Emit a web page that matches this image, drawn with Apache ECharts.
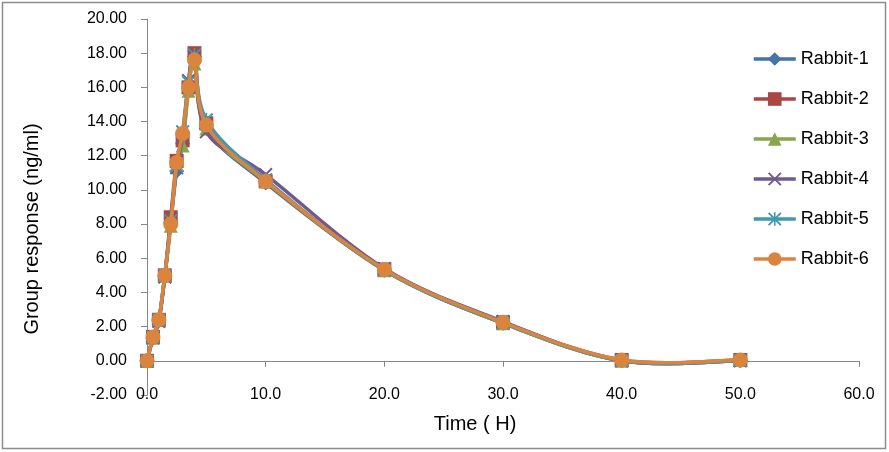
<!DOCTYPE html>
<html>
<head>
<meta charset="utf-8">
<script src="https://cdn.jsdelivr.net/npm/echarts@6/dist/echarts.min.js"></script>
<style>
html,body{margin:0;padding:0;background:#fff;}
#chart{width:889px;height:452px;}
</style>
</head>
<body>
<div id="chart"></div>
<script>
const times = [0, 0.5, 1, 1.5, 2, 2.5, 3, 3.5, 4, 5, 10, 20, 30, 40, 50];
const seriesNames = ['Rabbit-1', 'Rabbit-2', 'Rabbit-3', 'Rabbit-4', 'Rabbit-5', 'Rabbit-6'];
const rabbit1 = [0, 1.3, 2.35, 4.9, 8.1, 11.1, 12.7, 16.2, 17.8, 13.6, 10.4, 5.3, 2.2, 0.0, 0.0];
const rabbit2 = [0, 1.4, 2.4, 5.0, 8.4, 11.7, 12.9, 16.0, 18.0, 13.9, 10.5, 5.35, 2.25, 0.05, 0.05];
const rabbit3 = [0, 1.35, 2.4, 5.0, 7.9, 11.5, 12.6, 15.8, 17.4, 13.6, 10.5, 5.3, 2.2, 0.0, 0.05];
const rabbit4 = [0, 1.35, 2.3, 4.9, 8.2, 11.3, 13.1, 16.4, 17.8, 13.4, 10.9, 5.4, 2.3, 0.0, 0.0];
const rabbit5 = [0, 1.4, 2.4, 5.0, 8.2, 11.4, 13.4, 16.3, 17.9, 14.1, 10.6, 5.3, 2.2, 0.0, 0.0];
const rabbit6 = [0, 1.4, 2.4, 5.0, 8.0, 11.6, 13.3, 16.0, 17.6, 13.8, 10.5, 5.35, 2.25, 0.05, 0.05];
const allValues = [rabbit1, rabbit2, rabbit3, rabbit4, rabbit5, rabbit6];

const colors = ['#4572A7', '#AA4643', '#89A54E', '#71588F', '#4198AF', '#DB843D'];
const xPath = 'path://M0,1L1,0L10,9L9,10Z M9,0L10,1L1,10L0,9Z';
const starPath = 'path://M0,1L1,0L10,9L9,10Z M9,0L10,1L1,10L0,9Z M4.4,0H5.6V10H4.4Z';
const symbols = ['diamond', 'rect', 'triangle', xPath, starPath, 'circle'];
const symbolSizes = [15, 14, 14, 14, 14, 15];
const lineW = 3.5;

const chart = echarts.init(document.getElementById('chart'));
const axisColor = '#868686';
const font = 'Liberation Sans, Arial, sans-serif';

const series = [];
seriesNames.forEach((name, i) => {
  // smooth connecting curve (Excel-style cardinal spline through the data points)
  series.push({
    type: 'custom',
    coordinateSystem: 'cartesian2d',
    xAxisIndex: 0,
    yAxisIndex: 0,
    silent: true,
    clip: false,
    z: 2 + 2 * i,
    data: [[times[0], allValues[i][0]]],
    renderItem: function (params, api) {
      const pts = times.map((t, j) => api.coord([t, allValues[i][j]]));
      const n = pts.length;
      let d = 'M' + pts[0][0] + ',' + pts[0][1];
      for (let k = 0; k < n - 1; k++) {
        const p0 = pts[Math.max(k - 1, 0)];
        const p1 = pts[k];
        const p2 = pts[k + 1];
        const p3 = pts[Math.min(k + 2, n - 1)];
        const c1x = p1[0] + (p2[0] - p0[0]) / 6;
        const c1y = p1[1] + (p2[1] - p0[1]) / 6;
        const c2x = p2[0] - (p3[0] - p1[0]) / 6;
        const c2y = p2[1] - (p3[1] - p1[1]) / 6;
        d += 'C' + c1x + ',' + c1y + ' ' + c2x + ',' + c2y + ' ' + p2[0] + ',' + p2[1];
      }
      return {
        type: 'path',
        shape: { pathData: d },
        style: { stroke: colors[i], lineWidth: lineW, fill: null, lineJoin: 'round', lineCap: 'round' }
      };
    }
  });
  // markers
  series.push({
    name: name,
    type: 'line',
    xAxisIndex: 0,
    yAxisIndex: 0,
    showAllSymbol: true,
    symbol: symbols[i],
    symbolSize: symbolSizes[i],
    data: times.map((t, j) => [t, allValues[i][j]]),
    lineStyle: { color: colors[i], width: lineW, opacity: 0 },
    itemStyle: { color: colors[i] },
    emphasis: { disabled: true },
    z: 3 + 2 * i
  });
});

chart.setOption({
  animation: false,
  backgroundColor: '#fff',
  grid: { left: 147, right: 30, top: 19, bottom: 57, containLabel: false },
  legend: {
    orient: 'vertical',
    left: 747,
    top: 45,
    itemWidth: 42,
    itemHeight: 17,
    itemGap: 22,
    data: seriesNames.map((n, i) => ({
      name: n,
      lineStyle: { color: colors[i], width: lineW, opacity: 1 },
      itemStyle: { color: colors[i] }
    })),
    textStyle: { fontFamily: font, fontSize: 18, color: '#000', lineHeight: 17 }
  },
  xAxis: [
    {
      type: 'value', min: 0, max: 60, interval: 10, position: 'bottom',
      axisLine: { show: true, onZero: true, lineStyle: { color: axisColor, width: 1 } },
      axisTick: { show: true, inside: false, length: 6, lineStyle: { color: axisColor } },
      axisLabel: { show: false },
      splitLine: { show: false }
    },
    {
      type: 'value', min: 0, max: 60, interval: 10, position: 'bottom',
      axisLine: { show: false, onZero: false },
      axisTick: { show: false },
      axisLabel: {
        show: true, margin: 0, verticalAlign: 'middle',
        formatter: v => v.toFixed(1),
        fontFamily: font, fontSize: 16, color: '#000'
      },
      splitLine: { show: false }
    }
  ],
  yAxis: {
    type: 'value', min: -2, max: 20, interval: 2,
    axisLine: { show: true, lineStyle: { color: axisColor, width: 1 } },
    axisTick: { show: true, inside: false, length: 6, lineStyle: { color: axisColor } },
    axisLabel: {
      margin: 20, formatter: v => v.toFixed(2),
      fontFamily: font, fontSize: 16, color: '#000'
    },
    splitLine: { show: false }
  },
  graphic: [
    {
      type: 'rect', silent: true, z: 100,
      shape: { x: 2.5, y: 2.5, width: 883, height: 446 },
      style: { fill: 'none', stroke: '#8c8c8c', lineWidth: 1.5 }
    },
    {
      type: 'text', x: 475, y: 424, z: 100,
      style: { text: 'Time ( H)', fontFamily: font, fontSize: 20, fill: '#000', align: 'center', verticalAlign: 'middle' }
    },
    {
      type: 'text', x: 32, y: 229, rotation: Math.PI / 2, z: 100,
      style: { text: 'Group response (ng/ml)', fontFamily: font, fontSize: 20, fill: '#000', align: 'center', verticalAlign: 'middle' }
    }
  ],
  series: series
});
</script>
</body>
</html>
